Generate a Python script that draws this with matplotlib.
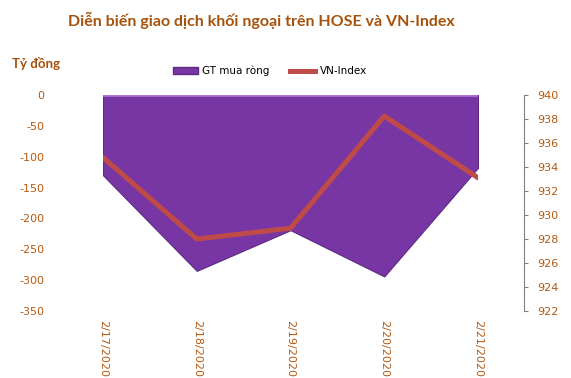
import matplotlib
matplotlib.use("Agg")
import matplotlib.pyplot as plt
from matplotlib.patches import Patch
from matplotlib.lines import Line2D

plt.rcParams["font.family"] = ["DejaVu Sans"]
plt.rcParams["font.size"] = 8

dates = ["2/17/2020", "2/18/2020", "2/19/2020", "2/20/2020", "2/21/2020"]
net_buy = [-130, -285, -219, -294, -118]
vn_index = [934.8, 928.0, 928.9, 938.25, 933.1]
left_ticks = [0, -50, -100, -150, -200, -250, -300, -350]
right_ticks = [922, 924, 926, 928, 930, 932, 934, 936, 938, 940]

brown = "#A5520C"
tick_col = "#B5590F"
purple = "#7836A4"
red = "#BE4B48"

fig = plt.figure(figsize=(5.71, 3.78), dpi=100)
ax = fig.add_axes([103/571, 1-311/378, 375/571, 216/378])
x = list(range(len(dates)))
ax.fill_between(x, 0, net_buy, color=purple, edgecolor="#5E2A84", linewidth=0.8, zorder=2)
ax.plot([x[0], x[-1]], [0, 0], color="#A873D0", lw=2, zorder=3)
ax.set_xlim(x[0], x[-1])
ax.set_ylim(-350, 0)
ax.set_yticks(left_ticks)
ax.set_yticklabels([str(v) for v in left_ticks])
ax.tick_params(axis="y", length=0, pad=42, labelsize=8, labelcolor=tick_col)
ax.set_xticks(x)
ax.set_xticklabels(dates, rotation=270, va="top", ha="center")
ax.tick_params(axis="x", length=0, pad=6.5, labelsize=8, labelcolor=tick_col)
for s in ax.spines.values():
    s.set_visible(False)

ax2 = ax.twinx()
ax2.plot(x, vn_index, color=red, lw=3.6, solid_capstyle="round", zorder=4)
ax2.set_ylim(922, 940)
ax2.set_yticks(right_ticks)
ax2.set_yticklabels([str(v) for v in right_ticks])
for s in ["top", "left", "bottom"]:
    ax2.spines[s].set_visible(False)
ax2.spines["right"].set_position(("axes", (524-103)/375))
ax2.spines["right"].set_color("#808080")
ax2.tick_params(axis="y", length=3, color="#808080", pad=6.5, direction="out",
                labelsize=8, labelcolor=tick_col)
ax2.set_xlim(x[0], x[-1])

fig.text(261/571, 1-20/378, "Diễn biến giao dịch khối ngoại trên HOSE và VN-Index",
         ha="center", va="center", fontsize=11.5, fontweight="bold", color=brown, family="Lato")
fig.text(12/571, 1-63/378, "Tỷ đồng", ha="left", va="center", fontsize=9.5,
         fontweight="bold", color=brown, family="Lato")

handles = [Patch(facecolor=purple, edgecolor="#5E2A84"),
           Line2D([0], [0], color=red, lw=3.6)]
fig.legend(handles, ["GT mua ròng", "VN-Index"], loc="center", bbox_to_anchor=(270/571, 1-71/378),
           ncol=2, frameon=False, handlelength=2.4, handleheight=0.6,
           columnspacing=2.0, handletextpad=0.4, prop={"family": "DejaVu Sans", "size": 7.5})

fig.savefig("out.png", dpi=100)
